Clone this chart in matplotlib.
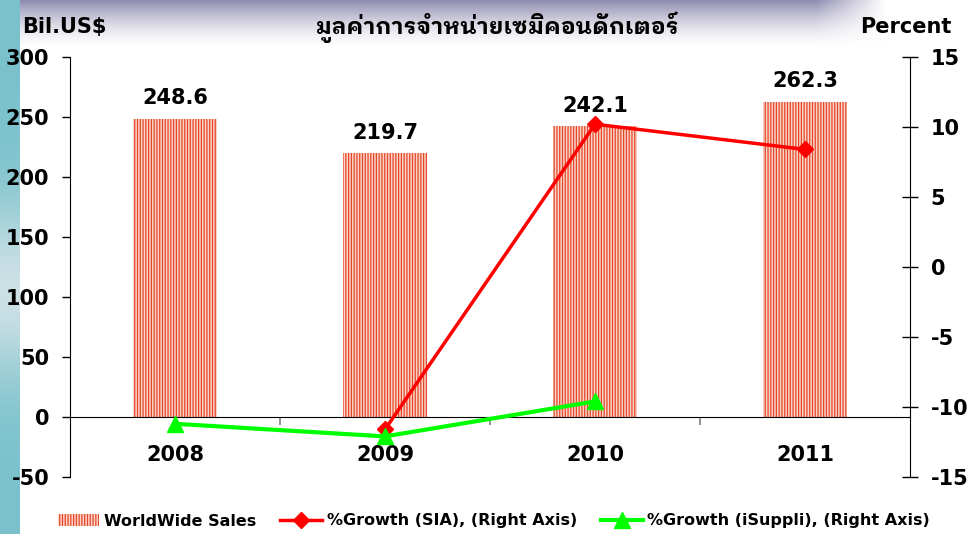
import numpy as np
import matplotlib
matplotlib.use("Agg")
import matplotlib.pyplot as plt

years = ["2008", "2009", "2010", "2011"]
sales = [248.6, 219.7, 242.1, 262.3]
growth_sia = [np.nan, -11.6, 10.2, 8.4]
growth_isuppli = [-11.2, -12.1, -9.6, np.nan]
title = "มูลค่าการจำหน่ายเซมิคอนดักเตอร์"
legend_labels = ["WorldWide Sales", "%Growth (SIA), (Right Axis)",
                 "%Growth (iSuppli), (Right Axis)"]

plt.rcParams["font.family"] = ["DejaVu Sans"]
plt.rcParams["font.weight"] = "bold"
plt.rcParams["axes.unicode_minus"] = False
plt.rcParams["hatch.linewidth"] = 0.9

W, H = 967, 534
fig = plt.figure(figsize=(W / 100, H / 100), dpi=100, facecolor="white")

# slide-like background: teal strip on the left, grey-purple band on top
img = np.ones((H, W, 3))
yy = np.arange(H)[:, None]
xx = np.arange(W)[None, :]
band = np.clip(1 - yy / 48.0, 0, 1) ** 1.6
band = band * np.clip((885 - xx) / 70.0, 0, 1)
top = np.array([0.56, 0.55, 0.69])
img = img * (1 - band[..., None]) + top * band[..., None]
mid = np.exp(-((np.arange(H) - 290) / 90.0) ** 2)[:, None]
teal = np.array([0.48, 0.76, 0.80]) * (1 - mid) + np.array([0.80, 0.88, 0.90]) * mid
img[:, :20, :] = teal[:, None, :] * np.ones((1, 20, 1))
bg = fig.add_axes([0, 0, 1, 1], zorder=-10)
bg.imshow(img, aspect="auto", extent=(0, 1, 0, 1))
bg.axis("off")

ax = fig.add_axes([70 / W, 1 - 477 / H, 840 / W, 420 / H])
ax.patch.set_visible(False)
x = np.arange(len(years))
bars = ax.bar(x, sales, width=0.4, facecolor="#fbd3c6", edgecolor="#e4482a",
              hatch="||||||", linewidth=0, zorder=2)
for xi, v in zip(x, sales):
    ax.text(xi, v + 9, f"{v:.1f}", ha="center", va="bottom", fontsize=15,
            fontweight="bold")

ax.set_xlim(-0.5, 3.5)
ax.set_ylim(-50, 300)
ax.set_yticks(np.arange(-50, 301, 50))
ax.tick_params(axis="y", direction="out", length=6, width=1, pad=9,
               labelsize=15)
ax.spines["bottom"].set_position(("data", 0))
ax.spines["top"].set_visible(False)
ax.spines["right"].set_visible(False)
ax.set_xticks(x)
ax.set_xticklabels(years)
ax.tick_params(axis="x", which="major", length=0, pad=20, labelsize=15)
ax.set_xticks([0.5, 1.5, 2.5], minor=True)
ax.tick_params(axis="x", which="minor", direction="out", length=6, width=1.2,
               color="#808080")

ax2 = ax.twinx()
ax2.set_ylim(-15, 15)
ax2.set_yticks(np.arange(-15, 16, 5))
ax2.tick_params(axis="y", direction="inout", length=12, width=1, pad=9,
                labelsize=15)
for s in ["top", "bottom", "left"]:
    ax2.spines[s].set_visible(False)
l1, = ax2.plot(x, growth_sia, color="#ff0000", lw=2.5, marker="D",
               markersize=8, zorder=3)
l2, = ax2.plot(x, growth_isuppli, color="#00ff00", lw=3, marker="^",
               markersize=11, zorder=3)

fig.text(22 / W, 1 - 27 / H, "Bil.US$", ha="left", va="center", fontsize=15,
         fontweight="bold")
fig.text(951 / W, 1 - 27 / H, "Percent", ha="right", va="center", fontsize=15,
         fontweight="bold")
fig.text(497 / W, 1 - 27 / H, title, ha="center", va="center", fontsize=16.5,
         fontweight="bold", family=["IBM Plex Sans Thai Looped", "DejaVu Sans"])

fig.legend([bars, l1, l2], legend_labels, loc="center",
           bbox_to_anchor=(494 / W, 1 - 521 / H), ncol=3, frameon=False,
           prop={"size": 11.5, "weight": "bold"}, handlelength=2.6,
           handletextpad=0.3, columnspacing=1.5)

fig.savefig("out.png", dpi=100)
